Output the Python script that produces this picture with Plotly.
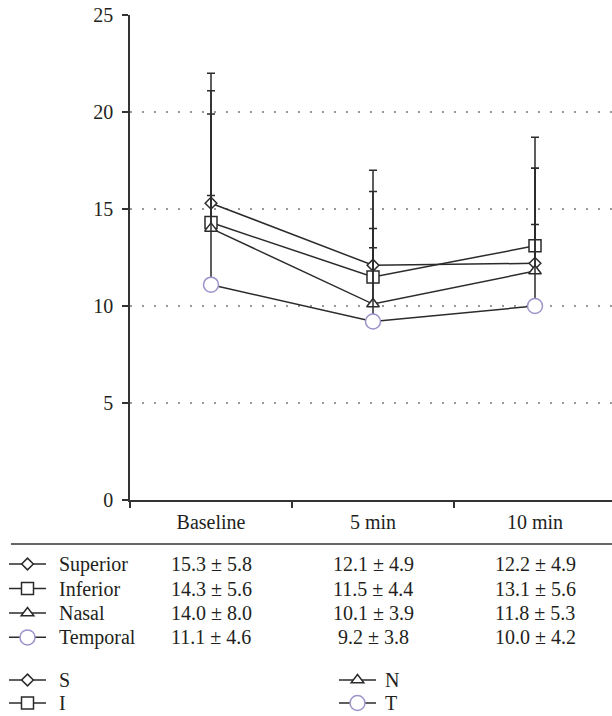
import plotly.graph_objects as go

categories = ["Baseline", "5 min", "10 min"]
series_names = ["Superior", "Inferior", "Nasal", "Temporal"]
short_names = ["S", "I", "N", "T"]
superior_mean = [15.3, 12.1, 12.2]
superior_sd = [5.8, 4.9, 4.9]
inferior_mean = [14.3, 11.5, 13.1]
inferior_sd = [5.6, 4.4, 5.6]
nasal_mean = [14.0, 10.1, 11.8]
nasal_sd = [8.0, 3.9, 5.3]
temporal_mean = [11.1, 9.2, 10.0]
temporal_sd = [4.6, 3.8, 4.2]
y_ticks = [0, 5, 10, 15, 20, 25]

means = [superior_mean, inferior_mean, nasal_mean, temporal_mean]
sds = [superior_sd, inferior_sd, nasal_sd, temporal_sd]

DARK = "#2b2b2b"
TXT = "#231f20"
PURPLE = "#9d92c9"
FONT = "Liberation Serif, Times New Roman, serif"
FS = 20

styles = [
    dict(symbol="diamond", size=9, color=DARK),
    dict(symbol="square", size=12, color=DARK),
    dict(symbol="triangle-up", size=11, color=DARK),
    dict(symbol="circle", size=15, color=PURPLE),
]

W, H = 612, 716
ML, MR, MT, MB = 130, 0, 15, 216
plot_h = H - MT - MB
plot_w = W - ML - MR


def py(pix):
    return (H - MB - pix) / plot_h


def px(pix):
    return (pix - ML) / plot_w


fig = go.Figure()
key_legend = {"S": "legend", "I": "legend", "N": "legend3", "T": "legend3"}
for i in range(4):
    st = styles[i]
    fig.add_trace(go.Scatter(
        x=categories, y=means[i], mode="lines+markers",
        name="", legend=key_legend[short_names[i]],
        line=dict(color=DARK, width=1.5),
        marker=dict(symbol=st["symbol"], size=st["size"], color="white",
                    line=dict(color=st["color"], width=1.5)),
        error_y=dict(type="data", array=sds[i], arrayminus=[0] * 3, symmetric=False,
                     color=DARK, thickness=1.5, width=4),
        cliponaxis=False,
    ))
# table legend keys
for i in range(4):
    st = styles[i]
    fig.add_trace(go.Scatter(
        x=[None], y=[None], mode="lines+markers", name="",
        legend="legend2",
        line=dict(color=DARK, width=1.5),
        marker=dict(symbol=st["symbol"], size=st["size"], color="white",
                    line=dict(color=st["color"], width=1.5)),
    ))

# table: names and values
row_y = [564, 588.5, 613, 637.4]
for i in range(4):
    fig.add_annotation(
        x=px(57), xref="paper", y=py(row_y[i]), yref="paper",
        text=series_names[i], showarrow=False, xanchor="left", yanchor="middle",
        font=dict(family=FONT, size=FS, color=TXT),
    )
    for j, c in enumerate(categories):
        fig.add_annotation(
            x=c, xref="x", y=py(row_y[i]), yref="paper",
            text=f"{means[i][j]:.1f} ± {sds[i][j]:.1f}", showarrow=False,
            font=dict(family=FONT, size=FS, color=TXT), xanchor="center", yanchor="middle",
        )

# key legend labels
key_pos = {"S": (57, 680), "I": (57, 703), "N": (383, 680), "T": (383, 703)}
for s in short_names:
    kx, ky = key_pos[s]
    fig.add_annotation(
        x=px(kx), xref="paper", y=py(ky), yref="paper", text=s, showarrow=False,
        xanchor="left", yanchor="middle", font=dict(family=FONT, size=FS, color=TXT),
    )

fig.add_shape(type="line", xref="paper", yref="paper",
              x0=px(11), x1=px(W), y0=py(544), y1=py(544),
              line=dict(color="#333", width=1.5))

leg_common = dict(orientation="v", xanchor="left", yanchor="top",
                  bgcolor="rgba(0,0,0,0)", tracegroupgap=0, traceorder="normal",
                  borderwidth=0, itemwidth=37)

fig.update_layout(
    width=W, height=H,
    margin=dict(l=ML, r=MR, t=MT, b=MB, autoexpand=False),
    paper_bgcolor="white", plot_bgcolor="white",
    font=dict(family=FONT, size=FS, color=TXT),
    xaxis=dict(type="category", range=[-0.5, -0.5 + plot_w / 162.0], showline=True,
               linecolor="#333", linewidth=1.5, ticks="outside", tickson="boundaries",
               ticklen=6, tickcolor="#333", tickwidth=1.5, showgrid=False, zeroline=False,
               ticklabelstandoff=3),
    yaxis=dict(range=[0, 25], tickvals=y_ticks, showline=True, linecolor="#333",
               linewidth=1.5, ticks="outside", ticklen=6, tickcolor="#333", tickwidth=1.5,
               showgrid=True, gridcolor="#999", gridwidth=1.5, griddash="1.5px,10.5px",
               zeroline=False, ticklabelstandoff=5),
    legend=dict(x=px(4), y=py(663.5), font=dict(family=FONT, size=15.4), **leg_common),
    legend3=dict(x=px(334), y=py(663.5), font=dict(family=FONT, size=15.4), **leg_common),
    legend2=dict(x=px(4), y=py(546.8), font=dict(family=FONT, size=16.5), **leg_common),
    hovermode=False,
)

fig.write_html("out.html", config={"displayModeBar": False},
               post_script="document.body.style.margin='0';")
